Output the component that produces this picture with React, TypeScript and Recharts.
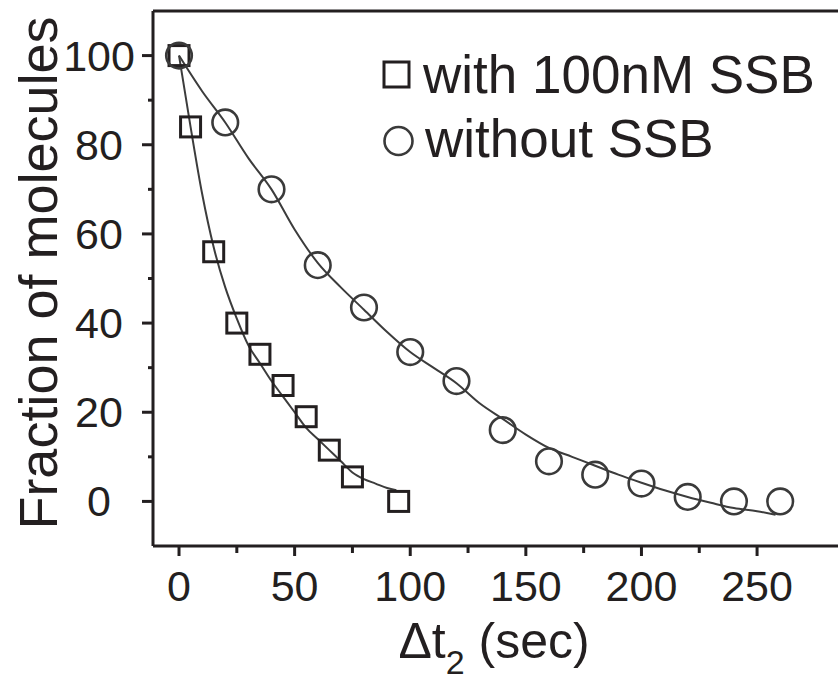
import { ComposedChart, Scatter, Line, XAxis, YAxis, ReferenceLine } from "recharts"

const withSsbTime = [0, 5, 15, 25, 35, 45, 55, 65, 75, 95]
const withSsbFrac = [100, 84, 56, 40, 33, 26, 19, 11.5, 5.5, 0]
const withoutSsbTime = [0, 20, 40, 60, 80, 100, 120, 140, 160, 180, 200, 220, 240, 260]
const withoutSsbFrac = [100, 85, 70, 53, 43.5, 33.5, 27, 16, 9, 6, 4, 1, 0, 0]

// fitted decay curves
const fitWithTime = [0, 5, 10, 15, 20, 25, 30, 35, 40, 45, 50, 55, 60, 65, 70, 75, 80, 85, 90, 94]
const fitWithFrac = [100, 84, 69, 57, 48, 41, 35, 31, 27, 23.5, 20, 16.5, 14, 11.5, 9, 6.5, 5, 4, 3, 2.5]
const fitWithoutTime = [0, 10, 20, 30, 40, 50, 60, 70, 80, 90, 100, 110, 120, 130, 140, 150, 160, 170, 180, 190, 200, 210, 220, 230, 240, 250, 258]
const fitWithoutFrac = [100, 92, 85, 77, 70, 61, 53.5, 48, 43, 38, 33.5, 30, 26.5, 22, 18.5, 15, 12, 10, 8, 6, 4.2, 2.5, 1, -0.3, -1.5, -2.2, -3]

const xTicks = [0, 25, 50, 75, 100, 125, 150, 175, 200, 225, 250]
const yTicks = [0, 10, 20, 30, 40, 50, 60, 70, 80, 90, 100]
const seriesNames = ["with 100nM SSB", "without SSB"]

const INK = "#231f20"
const FONT = "'Liberation Sans', Arial, sans-serif"

const zip = (t: number[], v: number[]) => t.map((x, i) => ({ t: x, f: v[i] }))
const withSsb = zip(withSsbTime, withSsbFrac)
const withoutSsb = zip(withoutSsbTime, withoutSsbFrac)
const fitWith = zip(fitWithTime, fitWithFrac)
const fitWithout = zip(fitWithoutTime, fitWithoutFrac)

const SquareDot = (p: any) => (
  <rect x={p.cx - 10} y={p.cy - 10} width={20} height={20} fill="none" stroke={INK} strokeWidth={3} />
)
const CircleDot = (p: any) => (
  <circle cx={p.cx} cy={p.cy} r={12.8} fill="none" stroke="#3a3a3a" strokeWidth={2.6} />
)

const XTick = (p: any) => {
  const v = p.payload.value
  const major = v % 50 === 0
  return (
    <g>
      <line x1={p.x} x2={p.x} y1={p.y} y2={p.y + (major ? 10 : 7)} stroke={INK} strokeWidth={3} />
      {major && (
        <text x={p.x} y={p.y + 40} textAnchor="middle" dominantBaseline="central" fontSize={43} fontFamily={FONT} fill={INK}>
          {v}
        </text>
      )}
    </g>
  )
}

const YTick = (p: any) => {
  const v = p.payload.value
  const major = v % 20 === 0
  return (
    <g>
      <line x1={p.x - (major ? 11 : 5)} x2={p.x} y1={p.y} y2={p.y} stroke={INK} strokeWidth={3} />
      {major && (
        <text x={p.x - 54} y={p.y} textAnchor="middle" dominantBaseline="central" fontSize={43} fontFamily={FONT} fill={INK}>
          {v}
        </text>
      )}
    </g>
  )
}

// axis titles and legend, drawn over the chart
const Overlay = () => (
  <svg width={838} height={682} style={{ position: "absolute", left: 0, top: 0, pointerEvents: "none" }}>
    <text x={57} y={273} transform="rotate(-90 57 273)" textAnchor="middle" fontSize={54} fontFamily={FONT} fill={INK}>
      Fraction of molecules
    </text>
    <text x={494} y={658} textAnchor="middle" fontSize={50} fontFamily={FONT} fill={INK}>
      Δt
      <tspan fontSize={34} dy={16}>2</tspan>
      <tspan dy={-16}> (sec)</tspan>
    </text>
    <rect x={384} y={62} width={25} height={25} fill="none" stroke={INK} strokeWidth={3} />
    <text x={423} y={93} fontSize={53} fontFamily={FONT} fill={INK}>{seriesNames[0]}</text>
    <circle cx={398.5} cy={141} r={14} fill="none" stroke="#3a3a3a" strokeWidth={2.6} />
    <text x={425} y={157} fontSize={53} fontFamily={FONT} fill={INK}>{seriesNames[1]}</text>
  </svg>
)

export default function App() {
  return (
    <div style={{ position: "absolute", left: 0, top: 0, width: 838, height: 682, background: "#fff" }}>
      <ComposedChart width={838} height={682} margin={{ top: 11, right: 0, bottom: 0, left: 0 }}>
        <XAxis
          type="number"
          dataKey="t"
          domain={[-11.25, 285]}
          ticks={xTicks}
          allowDataOverflow
          height={136}
          tickSize={0}
          tickMargin={0}
          tickLine={false}
          tick={<XTick />}
          axisLine={{ stroke: INK, strokeWidth: 3 }}
        />
        <YAxis
          type="number"
          dataKey="f"
          domain={[-10, 110]}
          ticks={yTicks}
          allowDataOverflow
          width={153}
          tickSize={0}
          tickMargin={0}
          tickLine={false}
          tick={<YTick />}
          axisLine={{ stroke: INK, strokeWidth: 3 }}
        />
        <ReferenceLine y={110} stroke={INK} strokeWidth={3} />
        <Line data={fitWith} dataKey="f" type="monotone" stroke="#3c3c3c" strokeWidth={2} dot={false} isAnimationActive={false} />
        <Line data={fitWithout} dataKey="f" type="monotone" stroke="#3c3c3c" strokeWidth={2} dot={false} isAnimationActive={false} />
        <Scatter name={seriesNames[0]} data={withSsb} dataKey="f" shape={<SquareDot />} isAnimationActive={false} />
        <Scatter name={seriesNames[1]} data={withoutSsb} dataKey="f" shape={<CircleDot />} isAnimationActive={false} />
      </ComposedChart>
      <Overlay />
    </div>
  )
}
